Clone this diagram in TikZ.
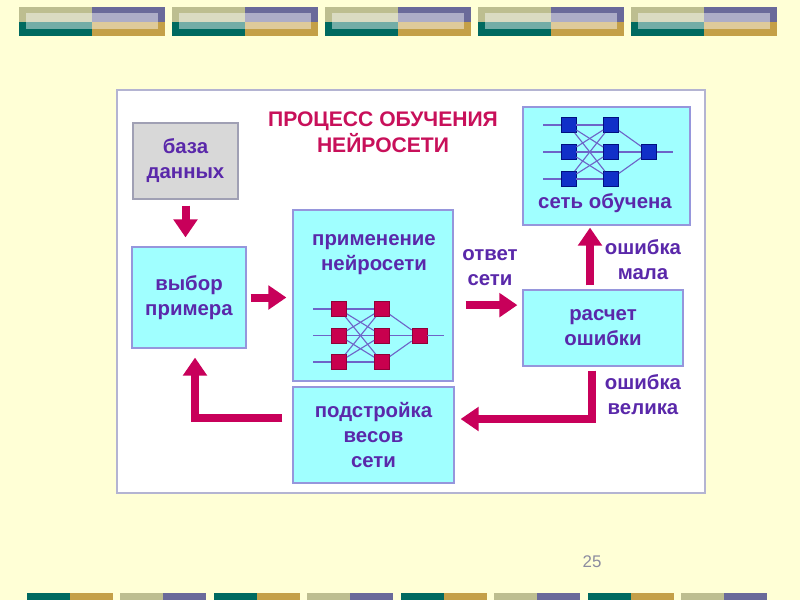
\documentclass[tikz,border=0pt]{standalone}
\usepackage{fontspec}
\setmainfont{Liberation Sans}
\usetikzlibrary{arrows.meta}

\definecolor{bgc}{HTML}{FFFFD6}
\definecolor{panelc}{HTML}{B4B4D2}
\definecolor{boxc}{HTML}{A0FFFF}
\definecolor{boxline}{HTML}{9696DC}
\definecolor{greyc}{HTML}{D8D8D8}
\definecolor{greyline}{HTML}{A0A0B4}
\definecolor{textc}{HTML}{5A28AA}
\definecolor{titlec}{HTML}{C8105A}
\definecolor{arrowc}{HTML}{C8005A}
\definecolor{redsq}{HTML}{C8004E}
\definecolor{redline}{HTML}{900038}
\definecolor{bluesq}{HTML}{1030C8}
\definecolor{blueline}{HTML}{001080}
\definecolor{netc}{HTML}{6E64C8}
\definecolor{olivec}{HTML}{BDBE90}
\definecolor{purpc}{HTML}{6A6A9A}
\definecolor{tealc}{HTML}{006A60}
\definecolor{goldc}{HTML}{C4A048}
\definecolor{numc}{HTML}{8C8CA0}

\begin{document}
\begin{tikzpicture}[x=0.025cm,y=-0.025cm,
  box/.style={draw=boxline, fill=boxc, line width=0.8pt, inner sep=0pt},
  txt/.style={text=textc, font=\fontsize{14.5}{17.8}\selectfont\bfseries, align=center},
  flow/.style={draw=arrowc, line width=0.2cm, line join=miter, -{Triangle[width=0.58cm,length=0.45cm]}},
  rsq/.style={draw=redline, fill=redsq, minimum size=0.38cm, inner sep=0pt},
  bsq/.style={draw=blueline, fill=bluesq, minimum size=0.38cm, inner sep=0pt},
  netline/.style={draw=netc, line width=0.8pt}]
\useasboundingbox (0,0) rectangle (800,600);
\fill[bgc] (0,0) rectangle (800,600);
% decorative bars
\foreach \i in {0,...,4} {
  \fill[olivec] (19+153*\i,7) rectangle +(73,15);
  \fill[purpc] (92+153*\i,7) rectangle +(73,15);
  \fill[tealc] (19+153*\i,22) rectangle +(73,14);
  \fill[goldc] (92+153*\i,22) rectangle +(73,14);
  \fill[white,opacity=0.45] (26+153*\i,13) rectangle +(132,16);
}
\foreach \i in {0,...,3} {
  \fill[tealc] (26.5+187*\i,593) rectangle +(43,7);
  \fill[goldc] (69.5+187*\i,593) rectangle +(43,7);
  \fill[olivec] (120+187*\i,593) rectangle +(43,7);
  \fill[purpc] (163+187*\i,593) rectangle +(43,7);
}
\node[text=numc, font=\fontsize{12}{14}\selectfont] (page) at (592,562) {25};
% panel
\draw[draw=panelc, fill=white, line width=1pt] (117,90) rectangle (705,493);
\node[txt, text=titlec, font=\fontsize{15}{18.5}\selectfont\bfseries] (title) at (383,132.5) {ПРОЦЕСС ОБУЧЕНИЯ\\НЕЙРОСЕТИ};
% boxes
\node[box, txt, fill=greyc, draw=greyline, minimum width=2.625cm, minimum height=1.9cm] (baza) at (185.5,161) {база\\данных};
\node[box, txt, minimum width=2.85cm, minimum height=2.525cm] (vybor) at (189,297.5) {выбор\\примера};
\node[box, minimum width=4cm, minimum height=4.275cm] (prim) at (373,295.5) {};
\node[txt] (primtxt) at (374,255) {применение\\нейросети};
\node[box, txt, minimum width=4.025cm, minimum height=2.4cm] (podstr) at (373.5,435) {подстройка\\весов\\сети};
\node[box, txt, minimum width=4cm, minimum height=1.9cm] (raschet) at (603,328) {расчет\\ошибки};
\node[box, minimum width=4.175cm, minimum height=2.95cm] (obuch) at (606.5,166) {};
\node[txt] (obuchtxt) at (605,203) {сеть обучена};
% labels
\node[txt] (otvet) at (490,267.5) {ответ\\сети};
\node[txt] (mala) at (643,259.5) {ошибка\\мала};
\node[txt] (velika) at (643,394.5) {ошибка\\велика};
% network in prim
\foreach \r/\yy in {1/309,2/335.5,3/362} {
  \coordinate (pin\r) at (313,\yy);
  \node[rsq] (pa\r) at (339,\yy) {};
  \node[rsq] (pb\r) at (382,\yy) {};
}
\node[rsq] (pc) at (419.5,335.5) {};
\coordinate (pout) at (444,335.5);
\foreach \i in {1,2,3} {
  \draw[netline] (pin\i) -- (pa\i);
  \draw[netline] (pb\i) -- (pc);
  \foreach \j in {1,2,3} \draw[netline] (pa\i) -- (pb\j);
}
\draw[netline] (pc) -- (pout);
% network in obuch
\foreach \r/\yy in {1/125,2/152,3/179} {
  \coordinate (oin\r) at (543,\yy);
  \node[bsq] (oa\r) at (568.5,\yy) {};
  \node[bsq] (ob\r) at (611,\yy) {};
}
\node[bsq] (oc) at (649,152) {};
\coordinate (oout) at (673,152);
\foreach \i in {1,2,3} {
  \draw[netline] (oin\i) -- (oa\i);
  \draw[netline] (ob\i) -- (oc);
  \foreach \j in {1,2,3} \draw[netline] (oa\i) -- (ob\j);
}
\draw[netline] (oc) -- (oout);
% arrows
\draw[flow] ([yshift=-0.15cm]baza.south) -- ([yshift=0.225cm]baza.south |- vybor.north);
\draw[flow] ([xshift=0.1cm]vybor.east) -- ([xshift=-0.15cm]vybor.east -| prim.west);
\draw[flow] ([xshift=0.3cm,yshift=-0.24cm]prim.east) -- ([xshift=-0.125cm,yshift=-0.24cm]prim.east -| raschet.west);
\draw[flow] ([xshift=-0.325cm,yshift=0.1cm]raschet.north) -- ([xshift=-0.325cm,yshift=-0.05cm]raschet.north |- obuch.south);
\draw[flow] ([xshift=-0.275cm,yshift=-0.1cm]raschet.south) |- ([xshift=0.15cm,yshift=0.4cm]podstr.east);
\draw[flow] ([xshift=-0.25cm,yshift=0.425cm]podstr.west) -| ([xshift=0.15cm,yshift=-0.225cm]vybor.south);
\end{tikzpicture}
\end{document}
